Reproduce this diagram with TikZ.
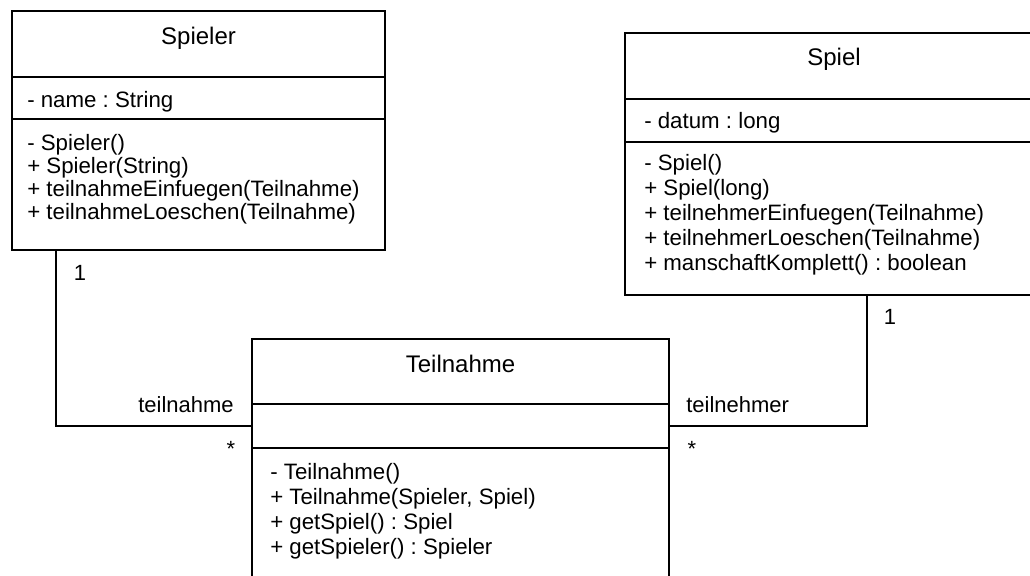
\documentclass[tikz,border=0pt]{standalone}
\usepackage{fontspec}
\setmainfont{Liberation Sans}
\usetikzlibrary{positioning, calc}
\frenchspacing

\begin{document}
\begin{tikzpicture}[x=0.75pt, y=-0.75pt, node distance=0pt]
    \tikzstyle{part} = [rectangle, draw, line width=1.5pt, outer sep=0pt, inner sep=0pt]
    \tikzstyle{head} = [inner sep=0pt, anchor=base, font=\fontsize{18pt}{21pt}\selectfont]
    \tikzstyle{member} = [inner sep=0pt, align=left, anchor=base west, font=\fontsize{16.7pt}{18.75pt}\selectfont]
    \tikzstyle{role} = [inner sep=0pt, font=\fontsize{16.5pt}{18pt}\selectfont]
    \tikzstyle{assoc} = [draw, line width=1pt]

    \useasboundingbox (0,0) rectangle (1030,575);
    \clip (0,0) rectangle (1030,575);

    % Spieler
    \node [part, anchor=north west, minimum width=279.75pt, minimum height=49.5pt] (spielerHead) at (12,11) {};
    \node [part, below=of spielerHead, minimum width=279.75pt, minimum height=31.5pt] (spielerAttr) {};
    \node [part, below=of spielerAttr, minimum width=279.75pt, minimum height=98.25pt] (spielerOps) {};
    \node [head] (spielerName) at ($(spielerHead.north)+(0,33)$) {Spieler};
    \node [member] (spielerFields) at ($(spielerAttr.north west)+(15,30)$) {- name : String};
    % base of a block = its last line
    \node [member, font=\fontsize{16.7pt}{17.25pt}\selectfont] (spielerMethods) at ($(spielerOps.north west)+(15,100)$)
        {- Spieler()\\+ Spieler(String)\\+ teilnahmeEinfuegen(Teilnahme)\\+ teilnahmeLoeschen(Teilnahme)};

    % Spiel
    \node [part, anchor=north west, minimum width=313.5pt, minimum height=49.5pt] (spielHead) at (625,33) {};
    \node [part, below=of spielHead, minimum width=313.5pt, minimum height=32.25pt] (spielAttr) {};
    \node [part, below=of spielAttr, minimum width=313.5pt, minimum height=114.75pt] (spielOps) {};
    \node [head] (spielName) at ($(spielHead.north)+(0,32)$) {Spiel};
    \node [member] (spielFields) at ($(spielAttr.north west)+(19,29)$) {- datum : long};
    \node [member] (spielMethods) at ($(spielOps.north west)+(19,128)$)
        {- Spiel()\\+ Spiel(long)\\+ teilnehmerEinfuegen(Teilnahme)\\+ teilnehmerLoeschen(Teilnahme)\\+ manschaftKomplett() : boolean};

    % Teilnahme
    \node [part, anchor=north west, minimum width=312.75pt, minimum height=48.75pt] (tnHead) at (252,339) {};
    \node [part, below=of tnHead, minimum width=312.75pt, minimum height=33pt] (tnAttr) {};
    \node [part, below=of tnAttr, minimum width=312.75pt, minimum height=150pt] (tnOps) {};
    \node [head] (tnName) at ($(tnHead.north)+(0,33)$) {Teilnahme};
    \node [member] (tnMethods) at ($(tnOps.north west)+(18,106)$)
        {- Teilnahme()\\+ Teilnahme(Spieler, Spiel)\\+ getSpiel() : Spiel\\+ getSpieler() : Spieler};

    % associations
    \path [assoc] ($(spielerOps.south west)+(44,0)$) |- (tnAttr.west);
    \path [assoc] ($(spielOps.south west)+(242,0)$) |- (tnAttr.east);

    \node [role] (oneSpieler) at ($(spielerOps.south west)+(68,23)$) {1};
    \node [role, anchor=base east] (roleTeilnahme) at ($(tnAttr.west)+(-18,-14)$) {teilnahme};
    \node [role, anchor=base] (manyTeilnahme) at ($(tnAttr.west)+(-21,30)$) {*};
    \node [role] (oneSpiel) at ($(spielOps.south west)+(265,22)$) {1};
    \node [role, anchor=base west] (roleTeilnehmer) at ($(tnAttr.east)+(17,-14)$) {teilnehmer};
    \node [role, anchor=base] (manyTeilnehmer) at ($(tnAttr.east)+(23,30)$) {*};
\end{tikzpicture}
\end{document}
